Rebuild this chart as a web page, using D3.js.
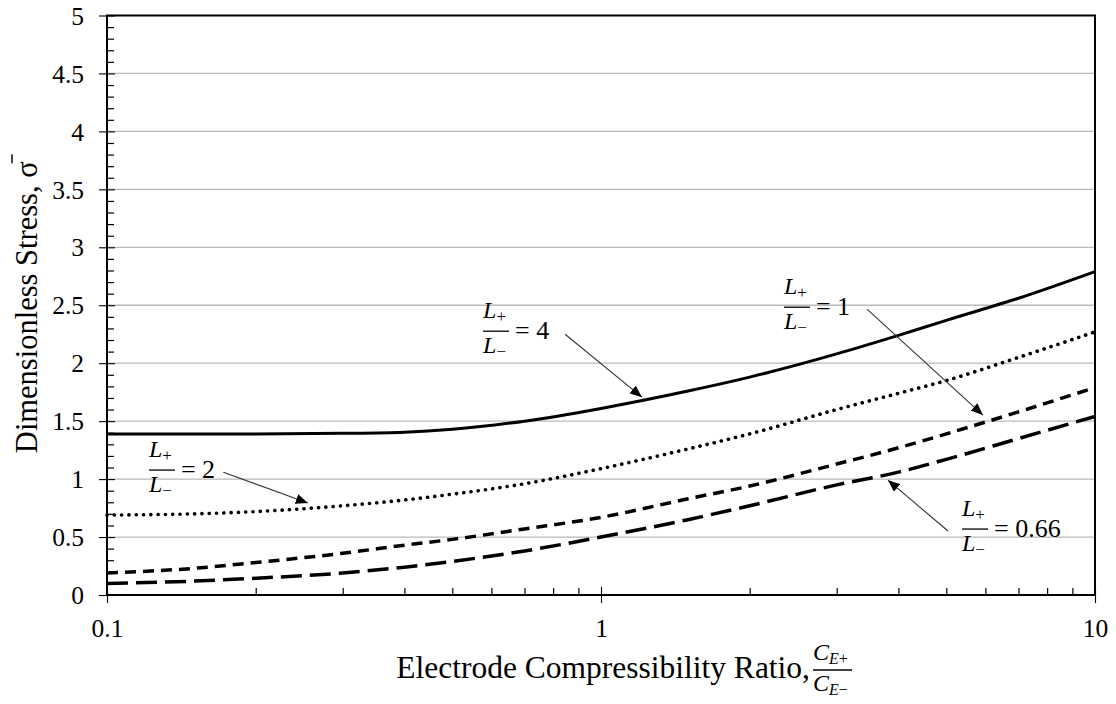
<!DOCTYPE html>
<html>
<head>
<meta charset="utf-8">
<script src="https://cdn.jsdelivr.net/npm/d3@7"></script>
<style>
  body { margin: 0; background: #fff; }
  svg { display: block; }
  svg text { font-family: "Liberation Serif", Tinos, "Times New Roman", "DejaVu Serif", serif; fill: #000; }
</style>
</head>
<body>
<svg id="chart" width="1116" height="704"></svg>
<script>
// Electrode compressibility ratio C_E+ / C_E-
const ratio = [0.1, 0.15, 0.2, 0.3, 0.4, 0.5, 0.7, 1, 1.5, 2, 3, 4, 5, 7, 10];

// Dimensionless stress for each electrode length ratio L+/L-
const stressL4   = [1.39, 1.39, 1.39, 1.395, 1.405, 1.43, 1.50, 1.61, 1.76, 1.88, 2.08, 2.24, 2.37, 2.56, 2.79];
const stressL2   = [0.69, 0.70, 0.72, 0.77, 0.82, 0.87, 0.96, 1.09, 1.26, 1.39, 1.60, 1.74, 1.85, 2.05, 2.27];
const stressL1   = [0.19, 0.23, 0.28, 0.36, 0.43, 0.48, 0.57, 0.67, 0.83, 0.94, 1.13, 1.27, 1.39, 1.58, 1.79];
const stressL066 = [0.10, 0.12, 0.145, 0.19, 0.24, 0.29, 0.38, 0.50, 0.65, 0.77, 0.95, 1.06, 1.17, 1.35, 1.54];

// Axis ticks
const yTickValues = [0, 0.5, 1, 1.5, 2, 2.5, 3, 3.5, 4, 4.5, 5];
const yTickLabels = ["0", "0.5", "1", "1.5", "2", "2.5", "3", "3.5", "4", "4.5", "5"];
const xTickValues = [0.1, 1, 10];
const xTickLabels = ["0.1", "1", "10"];

// Callouts: label anchor (x, y in data units), arrow start and arrow tip
const calloutText  = ["4", "2", "1", "0.66"];
const calloutLabel = [[0.577, 2.276], [0.1216, 1.078], [2.346, 2.483], [5.38, 0.569]];
const calloutFrom  = [[0.846, 2.25], [0.172, 1.06], [3.455, 2.466], [5.04, 0.552]];
const calloutTo    = [[1.21, 1.707], [0.255, 0.793], [5.93, 1.552], [3.81, 0.991]];

// ---------------------------------------------------------------
const W = 1116, H = 704;
const margin = { top: 15.5, right: 21, bottom: 109, left: 107 };
const svg = d3.select("#chart");
const SERIF = '"Liberation Serif", Tinos, "Times New Roman", "DejaVu Serif", serif';

const x = d3.scaleLog().domain([0.1, 10]).range([margin.left, W - margin.right]);
const y = d3.scaleLinear().domain([0, 5]).range([H - margin.bottom, margin.top]);
const x0 = x.range()[0], x1 = x.range()[1];
const y0 = y.range()[0], y1 = y.range()[1];

// horizontal grid lines
svg.append("g").selectAll("line")
  .data(yTickValues.filter(v => v > 0 && v < 5))
  .join("line")
  .attr("x1", x0).attr("x2", x1)
  .attr("y1", d => y(d)).attr("y2", d => y(d))
  .attr("stroke", "#b9b9b9").attr("stroke-width", 1.3);

// minor ticks (inside)
const yMinor = d3.range(1, 50).map(i => i / 10).filter(v => Math.abs(v * 2 - Math.round(v * 2)) > 1e-6);
const gYMinor = svg.append("g").attr("transform", `translate(${x0},0)`)
  .call(d3.axisRight(y).tickValues(yMinor).tickSize(7).tickFormat(""));
gYMinor.select(".domain").remove();
gYMinor.selectAll("line").attr("stroke", "#000").attr("stroke-width", 1.2);

const xMinor = [];
[0.1, 1].forEach(dec => { for (let k = 2; k <= 9; k++) xMinor.push(dec * k); });
const gXMinor = svg.append("g").attr("transform", `translate(0,${y0})`)
  .call(d3.axisTop(x).tickValues(xMinor).tickSize(7).tickFormat(""));
gXMinor.select(".domain").remove();
gXMinor.selectAll("line").attr("stroke", "#000").attr("stroke-width", 1.2);

// major y axis
const gY = svg.append("g").attr("transform", `translate(${x0},0)`)
  .call(d3.axisLeft(y).tickValues(yTickValues)
    .tickFormat((d, i) => yTickLabels[i]).tickSizeInner(8).tickSizeOuter(0).tickPadding(15));
gY.attr("font-family", SERIF);
gY.select(".domain").remove();
gY.selectAll(".tick line").attr("x2", 8).attr("x1", -8).attr("stroke", "#000").attr("stroke-width", 1.1);
gY.selectAll(".tick text").attr("font-size", 25.5).attr("dy", "0.34em");

// major x axis
const gX = svg.append("g").attr("transform", `translate(0,${y0})`)
  .call(d3.axisBottom(x).tickValues(xTickValues)
    .tickFormat((d, i) => xTickLabels[i]).tickSizeInner(8).tickSizeOuter(0).tickPadding(16));
gX.attr("font-family", SERIF);
gX.select(".domain").remove();
gX.selectAll(".tick line").attr("y1", -8).attr("y2", 8).attr("stroke", "#000").attr("stroke-width", 1.1);
gX.selectAll(".tick text").attr("font-size", 25.5);

// plot frame
svg.append("rect")
  .attr("x", x0).attr("y", y1).attr("width", x1 - x0).attr("height", y0 - y1)
  .attr("fill", "none").attr("stroke", "#000").attr("stroke-width", 2);

// curves
const line = d3.line().x((d, i) => x(ratio[i])).y(d => y(d)).curve(d3.curveMonotoneX);
const series = [
  { values: stressL4,   width: 3.0, dash: null,       cap: "butt" },
  { values: stressL2,   width: 3.6, dash: "0.1,7.2",  cap: "round" },
  { values: stressL1,   width: 3.5, dash: "11,7",     cap: "butt" },
  { values: stressL066, width: 3.5, dash: "21,8",     cap: "butt" }
];
svg.append("g").selectAll("path")
  .data(series)
  .join("path")
  .attr("d", d => line(d.values))
  .attr("fill", "none")
  .attr("stroke", "#000")
  .attr("stroke-width", d => d.width)
  .attr("stroke-linecap", d => d.cap)
  .attr("stroke-dasharray", d => d.dash);

// arrowhead marker
svg.append("defs").append("marker")
  .attr("id", "arrowhead")
  .attr("viewBox", "0 0 12 10")
  .attr("refX", 12).attr("refY", 5)
  .attr("markerWidth", 12).attr("markerHeight", 10)
  .attr("markerUnits", "userSpaceOnUse")
  .attr("orient", "auto")
  .append("path").attr("d", "M0,0 L12,5 L0,10 Z").attr("fill", "#000");

// callouts  L+/L- = value
const gCall = svg.append("g");
calloutText.forEach((val, i) => {
  const lx = x(calloutLabel[i][0]), ly = y(calloutLabel[i][1]);
  const g = gCall.append("g").attr("transform", `translate(${lx},${ly})`);
  const num = g.append("text").attr("x", 0).attr("y", -13).attr("font-size", 24);
  num.append("tspan").attr("font-style", "italic").text("L");
  num.append("tspan").attr("font-size", 17).attr("dy", 4).text("+");
  g.append("line").attr("x1", 0).attr("x2", 26).attr("y1", 0).attr("y2", 0)
    .attr("stroke", "#000").attr("stroke-width", 1.3);
  const den = g.append("text").attr("x", 0).attr("y", 22).attr("font-size", 24);
  den.append("tspan").attr("font-style", "italic").text("L");
  den.append("tspan").attr("font-size", 17).attr("dy", 4).text("\u2212");
  g.append("text").attr("x", 32).attr("y", 8).attr("font-size", 26).text("= " + val);

  gCall.append("line")
    .attr("x1", x(calloutFrom[i][0])).attr("y1", y(calloutFrom[i][1]))
    .attr("x2", x(calloutTo[i][0])).attr("y2", y(calloutTo[i][1]))
    .attr("stroke", "#333").attr("stroke-width", 1.1)
    .attr("marker-end", "url(#arrowhead)");
});

// y axis title with sigma bar
const yTitleG = svg.append("g").attr("transform", `translate(37,${(y0 + y1) / 2 + 2}) rotate(-90)`);
const yTitle = yTitleG.append("text").attr("text-anchor", "middle").attr("font-size", 30.5)
  .text("Dimensionless Stress, \u03c3");
const nChars = yTitle.text().length;
const sigEnd = yTitle.node().getEndPositionOfChar(nChars - 1).x;
yTitleG.append("line")
  .attr("x1", sigEnd - 2).attr("x2", sigEnd + 7)
  .attr("y1", -25).attr("y2", -25)
  .attr("stroke", "#000").attr("stroke-width", 1.4);

// x axis title with fraction C_E+ / C_E-
svg.append("text").attr("x", 810).attr("y", 678)
  .attr("text-anchor", "end").attr("font-size", 31.5)
  .text("Electrode Compressibility Ratio,");
const fx = 813, fy = 670;
const fNum = svg.append("text").attr("x", fx).attr("y", fy - 10).attr("font-size", 24);
fNum.append("tspan").attr("font-style", "italic").text("C");
fNum.append("tspan").attr("font-size", 16).attr("font-style", "italic").attr("dy", 4).text("E");
fNum.append("tspan").attr("font-size", 16).text("+");
svg.append("line").attr("x1", fx).attr("x2", fx + 39).attr("y1", fy).attr("y2", fy)
  .attr("stroke", "#000").attr("stroke-width", 1.3);
const fDen = svg.append("text").attr("x", fx).attr("y", fy + 21).attr("font-size", 24);
fDen.append("tspan").attr("font-style", "italic").text("C");
fDen.append("tspan").attr("font-size", 16).attr("font-style", "italic").attr("dy", 4).text("E");
fDen.append("tspan").attr("font-size", 16).text("\u2212");
</script>
</body>
</html>
